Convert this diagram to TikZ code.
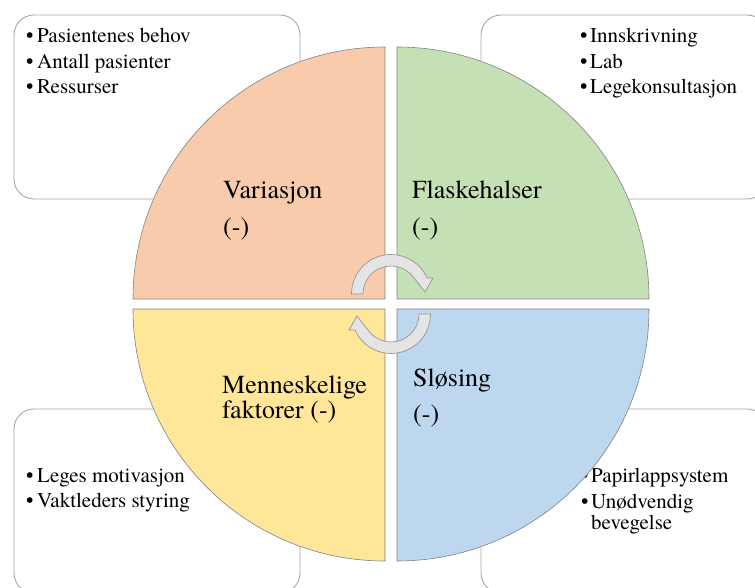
\documentclass[tikz,border=0pt]{standalone}
\usepackage{fontspec}
\setmainfont{texgyretermes-regular.otf}
\definecolor{qsalmon}{RGB}{248,203,173}
\definecolor{qgreen}{RGB}{197,224,180}
\definecolor{qyellow}{RGB}{255,230,153}
\definecolor{qblue}{RGB}{189,215,238}
\definecolor{quadedge}{RGB}{130,130,130}
\definecolor{boxgray}{RGB}{165,165,165}
\definecolor{arrowfill}{RGB}{228,228,228}
\definecolor{arrowedge}{RGB}{150,150,150}
\begin{document}
\begin{tikzpicture}[x=1pt,y=1pt,
  infobox/.style={draw=boxgray, line width=0.9pt, rounded corners=20pt, fill=white},
  quad/.style={draw=quadedge, line width=0.6pt},
  cyc/.style={draw=arrowedge, line width=0.7pt, fill=arrowfill},
  qlabel/.style={anchor=base west, inner sep=0pt, font=\fontsize{26}{30}\selectfont},
  bitem/.style={anchor=base west, inner sep=0pt, font=\fontsize{21}{25}\selectfont}]
\useasboundingbox (0,0) rectangle (755,588);
\begin{scope}
\clip (0,0) rectangle (755,588);
% background boxes
\draw[infobox] (14,389) rectangle (300,573);
\draw[infobox] (481,389) rectangle (767,573);
\draw[infobox] (14,-5) rectangle (300,179);
\draw[infobox] (481,-5) rectangle (767,179);
\end{scope}
% box texts
\node[bitem] (tl1) at (26,545) {\makebox[11pt][l]{\textbullet}Pasientenes behov};
\node[bitem] (tl2) at (26,519) {\makebox[11pt][l]{\textbullet}Antall pasienter};
\node[bitem] (tl3) at (26,494) {\makebox[11pt][l]{\textbullet}Ressurser};
\node[bitem] (tr1) at (580,545) {\makebox[10pt][l]{\textbullet}Innskrivning};
\node[bitem] (tr2) at (580,519) {\makebox[10pt][l]{\textbullet}Lab};
\node[bitem] (tr3) at (580,494) {\makebox[10pt][l]{\textbullet}Legekonsultasjon};
\node[bitem] (bl1) at (26,105) {\makebox[11pt][l]{\textbullet}Leges motivasjon};
\node[bitem] (bl2) at (26,80) {\makebox[11pt][l]{\textbullet}Vaktleders styring};
\node[bitem] (br1) at (581,105) {\makebox[10pt][l]{\textbullet}Papirlappsystem};
\node[bitem] (br2) at (581,79) {\makebox[10pt][l]{\textbullet}Unødvendig};
\node[bitem] (br3) at (591,58.5) {bevegelse};
% quadrants
\fill[qsalmon] (385,289) -- ++(-252,0) arc[start angle=180,end angle=90,radius=252] -- cycle;
\draw[quad] (385,289) -- ++(-252,0) arc[start angle=180,end angle=90,radius=252] -- cycle;
\fill[qgreen] (397,289) -- ++(0,252) arc[start angle=90,end angle=0,radius=252] -- cycle;
\draw[quad] (397,289) -- ++(0,252) arc[start angle=90,end angle=0,radius=252] -- cycle;
\fill[qyellow] (385,279) -- ++(0,-252) arc[start angle=270,end angle=180,radius=252] -- cycle;
\draw[quad] (385,279) -- ++(0,-252) arc[start angle=270,end angle=180,radius=252] -- cycle;
\fill[qblue] (397,279) -- ++(252,0) arc[start angle=0,end angle=-90,radius=252] -- cycle;
\draw[quad] (397,279) -- ++(252,0) arc[start angle=0,end angle=-90,radius=252] -- cycle;
% quadrant labels
\node[qlabel] (var) at (223,389) {Variasjon};
\node[qlabel] (varm) at (223,352) {(-)};
\node[qlabel] (fla) at (412,389) {Flaskehalser};
\node[qlabel] (flam) at (412,352) {(-)};
\node[qlabel] (men1) at (222,194) {Menneskelige};
\node[qlabel] (men2) at (222,169) {faktorer (-)};
\node[qlabel] (slo) at (413,201) {Sløsing};
\node[qlabel] (slom) at (413,165) {(-)};
% cycle arrows
\begin{scope}[shift={(391,294)}]
\draw[cyc] (-39.5,0) arc[start angle=180,end angle=23.9,radius=39.5] -- (42,16) -- (34,2) -- (23,16) arc[start angle=34.8,end angle=180,radius=28] -- cycle;
\end{scope}
\begin{scope}[shift={(391,274)},rotate=180]
\draw[cyc] (-39.5,0) arc[start angle=180,end angle=23.9,radius=39.5] -- (42,16) -- (34,2) -- (23,16) arc[start angle=34.8,end angle=180,radius=28] -- cycle;
\end{scope}
\end{tikzpicture}
\end{document}
